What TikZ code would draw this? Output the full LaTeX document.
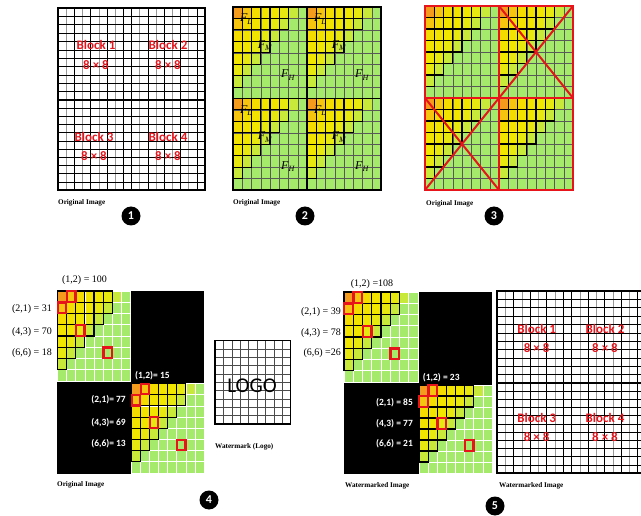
\documentclass[tikz,border=0pt]{standalone}
\usepackage{fontspec}
\setmainfont{Liberation Serif}
\newfontfamily\calfont{Carlito}
\definecolor{c2}{HTML}{F49A1C}
\definecolor{c3}{HTML}{F6C30E}
\definecolor{c4}{HTML}{F5DC00}
\definecolor{c5}{HTML}{F3E300}
\definecolor{c6}{HTML}{F0E600}
\definecolor{c7}{HTML}{E6E810}
\definecolor{c8}{HTML}{C8E93A}
\definecolor{c9}{HTML}{A5EA6A}
\definecolor{wred}{HTML}{E8141C}
\tikzset{
  blocktxt/.style={text=wred, font=\calfont\bfseries\fontsize{13}{13}\selectfont, inner sep=0},
  caption/.style={font=\bfseries\fontsize{7.2}{8}\selectfont, anchor=west, inner sep=0},
  numdot/.style={circle, fill=black, minimum size=19pt, inner sep=0, text=white, font=\calfont\bfseries\fontsize{12}{12}\selectfont},
  coefb/.style={font=\fontsize{10}{10}\selectfont, inner sep=0},
  coefw/.style={text=white, font=\calfont\bfseries\fontsize{9.5}{9.5}\selectfont, inner sep=0},
  flab/.style={font=\fontsize{12}{12}\selectfont, inner sep=0},
  thinw/.style={white, line width=0.7pt},
  thind/.style={black!65, line width=0.45pt},
}
\newcommand\sub[1]{\raisebox{-2.5pt}{\fontsize{8}{8}\selectfont\textit{#1}}}
% colored 8x8 block: #1 x, #2 y, #3 w, #4 h, #5 grid line style
\newcommand\cblock[5]{%
  \pgfmathsetmacro\cw{#3/8}%
  \pgfmathsetmacro\ch{#4/8}%
  \foreach \r in {1,...,8}{\foreach \c in {1,...,8}{%
    \pgfmathtruncatemacro\s{min(\r+\c,9)}%
    \fill[fill=c\s] ({#1+(\c-1)*\cw},{#2+(\r-1)*\ch}) rectangle ++(\cw,\ch);
    \draw[#5] ({#1+(\c-1)*\cw},{#2+(\r-1)*\ch}) rectangle ++(\cw,\ch);
  }}%
  \foreach \r in {1,...,8}{\foreach \c in {1,...,8}{%
    \pgfmathtruncatemacro\s{\r+\c}%
    \ifnum\s<9 \ifnum\c<7
      \draw[black, line width=1.1pt] ({#1+(\c-1)*\cw},{#2+(\r-1)*\ch}) rectangle ++(\cw,\ch);
    \fi\fi
  }}%
}
% red marks at (1,2),(2,1),(4,3),(6,6)
\newcommand\redmarks[4]{%
  \pgfmathsetmacro\cw{#3/8}%
  \pgfmathsetmacro\ch{#4/8}%
  \foreach \r/\c in {1/2,2/1,4/3,6/6}{%
    \draw[wred, line width=2.2pt] ({#1+(\c-1)*\cw+0.3},{#2+(\r-1)*\ch+0.3}) rectangle ++({\cw-0.6},{\ch-0.6});
  }%
}
% white grid block: x y w h ncols nrows
\newcommand\wgrid[6]{%
  \pgfmathsetmacro\gw{#3/#5}%
  \pgfmathsetmacro\gh{#4/#6}%
  \foreach \i in {1,...,#5}{%
    \pgfmathtruncatemacro\odd{mod(\i,2)}%
    \ifnum\odd=1 \def\lc{black!40}\else\def\lc{black}\fi
    \draw[\lc, line width=0.7pt] ({#1+\i*\gw},{#2}) -- ++(0,#4);
  }%
  \foreach \j in {1,...,#6}{%
    \draw[black, line width=0.6pt] ({#1},{#2+\j*\gh}) -- ++(#3,0);
  }%
}
\begin{document}
\begin{tikzpicture}[x=1pt,y=-1pt]
\useasboundingbox (0,0) rectangle (641,516);
\clip (0,0) rectangle (641,516);

% ---------- Panel 1 ----------
\wgrid{58}{8}{73.7}{92}{9}{11}
\wgrid{131.7}{8}{73.3}{92}{9}{11}
\wgrid{58}{100}{73.7}{90}{9}{11}
\wgrid{131.7}{100}{73.3}{90}{9}{11}
\draw[line width=1.4pt] (58,8) rectangle (205,190);
\draw[line width=1.4pt] (131.7,8) -- (131.7,190) (58,100) -- (205,100);
\node[blocktxt] (p1b1) at (96,45) {Block 1};
\node[blocktxt] (p1s1) at (96,65) {8 × 8};
\node[blocktxt] (p1b2) at (168,45) {Block 2};
\node[blocktxt] (p1s2) at (168,65) {8 × 8};
\node[blocktxt] (p1b3) at (94,137) {Block 3};
\node[blocktxt] (p1s3) at (94,156) {8 × 8};
\node[blocktxt] (p1b4) at (168,137) {Block 4};
\node[blocktxt] (p1s4) at (168,156) {8 × 8};
\node[caption] (cap1) at (58,203) {Original Image};
\node[numdot] (n1) at (131,216) {1};

% ---------- Panel 2 ----------
\cblock{233}{7}{74}{91.5}{thind}
\cblock{307}{7}{74}{91.5}{thind}
\cblock{233}{98.5}{74}{91.5}{thind}
\cblock{307}{98.5}{74}{91.5}{thind}
\draw[line width=1.3pt] (233,7) rectangle (381,190);
\draw[line width=1.3pt] (307,7) -- (307,190) (233,98.5) -- (381,98.5);
\foreach \bx/\by/\k in {233/7/a,307/7/b,233/98.5/c,307/98.5/d}{
  \node[flab] (fl\k) at ({\bx+13},{\by+12}) {\textit{F}\sub{L}};
  \node[flab] (fm\k) at ({\bx+32},{\by+38.5}) {\textit{F}\sub{M}};
  \node[flab] (fh\k) at ({\bx+55},{\by+68}) {\textit{F}\sub{H}};
}
\node[caption] (cap2) at (233,203) {Original Image};
\node[numdot] (n2) at (305,216) {2};

% ---------- Panel 3 ----------
\cblock{425}{6}{74}{92}{thind}
\cblock{499}{6}{74}{92}{thind}
\cblock{425}{98}{74}{92}{thind}
\cblock{499}{98}{74}{92}{thind}
\draw[wred, line width=2.4pt] (425,6) rectangle (573,190);
\draw[wred, line width=2.4pt] (499,6) -- (499,190) (425,98) -- (573,98);
\draw[wred, line width=2pt] (499,6) -- (573,98) (425,190) -- (573,6) (425,98) -- (499,190);
\node[caption] (cap3) at (426,204) {Original Image};
\node[numdot] (n3) at (494,216) {3};

% ---------- Panel 4 ----------
\fill[black] (57,291) rectangle (204,474);
\cblock{57.5}{291}{73}{90}{thinw}
\cblock{131.5}{383.5}{72.5}{89.5}{thinw}
\redmarks{57.5}{291}{73}{90}
\redmarks{131.5}{383.5}{72.5}{89.5}
\node[coefb] (a12) at (84.5,280) {(1,2) = 100};
\node[coefb, anchor=east] (a21) at (52,309) {(2,1) = 31};
\node[coefb, anchor=east] (a43) at (52,332) {(4,3) = 70};
\node[coefb, anchor=east] (a66) at (52,353) {(6,6) = 18};
\node[coefw, anchor=west] (b12) at (135,375.5) {(1,2)= 15};
\node[coefw, anchor=east] (b21) at (126,400) {(2,1)= 77};
\node[coefw, anchor=east] (b43) at (126,422.5) {(4,3)= 69};
\node[coefw, anchor=east] (b66) at (126,444) {(6,6)= 13};
\node[caption] (cap4) at (57,485) {Original Image};
% watermark logo
\pgfmathsetmacro\lw{75.7/9}
\pgfmathsetmacro\lh{83.3/10}
\foreach \i in {1,...,8}{\draw[black!70, line width=0.5pt] ({215+\i*\lw},340.7) -- ++(0,83.3);}
\foreach \j in {1,...,9}{\draw[black!70, line width=0.5pt] (215,{340.7+\j*\lh}) -- ++(75.7,0);}
\draw[line width=1.2pt] (215,340.7) rectangle (290.7,424);
\node[font=\calfont\fontsize{21}{21}\selectfont, inner sep=0] (logo) at (252,386) {LOGO};
\node[caption] (capw) at (215,447) {Watermark (Logo)};
\node[numdot] (n4) at (209,500) {4};

% ---------- Panel 5 ----------
\fill[black] (344,292) rectangle (492,474);
\cblock{344}{292}{74}{90}{thinw}
\cblock{419}{385}{73}{88}{thinw}
\redmarks{344}{292}{74}{90}
\redmarks{419}{385}{73}{88}
\node[coefb] (c12) at (372,284) {(1,2) =108};
\node[coefb, anchor=east] (c21) at (341,311.7) {(2,1) = 39};
\node[coefb, anchor=east] (c43) at (341,332.7) {(4,3) = 78};
\node[coefb, anchor=east] (c66) at (341,352.7) {(6,6) =26};
\node[coefw, anchor=west] (d12) at (422.7,377.3) {(1,2) = 23};
\node[coefw, anchor=east] (d21) at (413,402.7) {(2,1) = 85};
\node[coefw, anchor=east] (d43) at (413,423.3) {(4,3) = 77};
\node[coefw, anchor=east] (d66) at (413,444) {(6,6) = 21};
\node[caption] (cap5) at (345,486) {Watermarked Image};
% watermarked image grid
\wgrid{497}{291}{74.7}{92}{9}{11}
\wgrid{571.7}{291}{74.3}{92}{9}{11}
\wgrid{497}{383}{74.7}{90}{9}{11}
\wgrid{571.7}{383}{74.3}{90}{9}{11}
\draw[line width=1.4pt] (497,291) rectangle (646,473);
\draw[line width=1.4pt] (571.7,291) -- (571.7,473) (497,383) -- (646,383);
\node[blocktxt] (q1) at (536.7,329) {Block 1};
\node[blocktxt] (q1s) at (536.7,348) {8 × 8};
\node[blocktxt] (q2) at (605,329) {Block 2};
\node[blocktxt] (q2s) at (605,348) {8 × 8};
\node[blocktxt] (q3) at (536.7,418) {Block 3};
\node[blocktxt] (q3s) at (536.7,437) {8 × 8};
\node[blocktxt] (q4) at (605,418) {Block 4};
\node[blocktxt] (q4s) at (605,437) {8 × 8};
\node[caption] (cap6) at (499,486) {Watermarked Image};
\node[numdot] (n5) at (495,506) {5};
\end{tikzpicture}
\end{document}
